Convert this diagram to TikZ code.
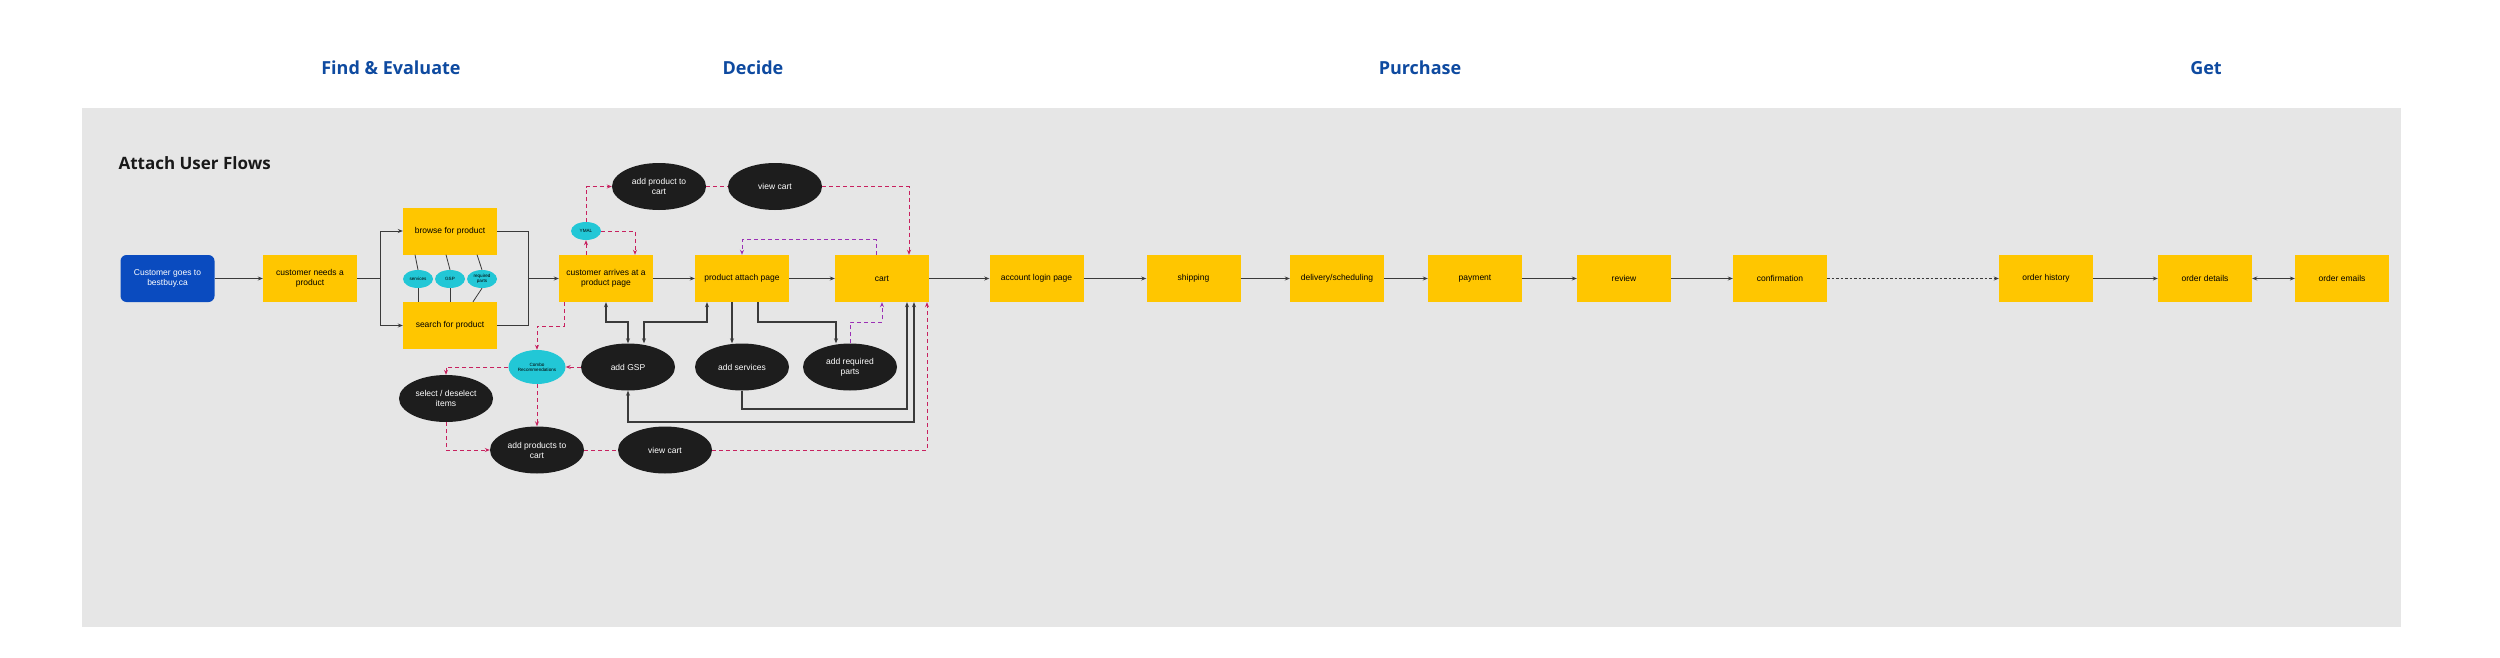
\documentclass[tikz,border=0pt]{standalone}
\usepackage{fontspec}
\setmainfont{Liberation Sans}
\newfontfamily\headfont{Open Sans}
\usetikzlibrary{arrows.meta,shapes.geometric}
\definecolor{bbyellow}{HTML}{FFC600}
\definecolor{bbblue}{HTML}{0A4BBF}
\definecolor{phaseblue}{HTML}{0E4AA0}
\definecolor{panelgray}{HTML}{E6E6E6}
\definecolor{tagcyan}{HTML}{22C7D6}
\definecolor{pinkline}{HTML}{C8215F}
\definecolor{purpleline}{HTML}{9B30B5}
\definecolor{inkgray}{HTML}{3A3A3A}
\definecolor{bubblefill}{HTML}{1D1D1D}

\begin{document}
\begin{tikzpicture}[x=1pt,y=-1pt,>={Stealth[length=5pt,width=4pt]},
		pagebox/.style={fill=bbyellow,minimum width=94pt,minimum height=47pt,inner sep=0pt,align=center,font=\fontsize{8.5}{10}\selectfont},
		startbox/.style={pagebox,fill=bbblue,rounded corners=6pt,text=white},
		actbubble/.style={ellipse,fill=bubblefill,minimum width=94pt,minimum height=47pt,inner sep=0pt,align=center,text=white,font=\fontsize{8.5}{10}\selectfont},
		tagbubble/.style={ellipse,fill=tagcyan,minimum width=30pt,minimum height=18pt,inner sep=0pt,align=center,font=\fontsize{4.6}{5}\selectfont},
		phasetitle/.style={text=phaseblue,font=\headfont\bfseries\fontsize{18}{20}\selectfont},
		flowline/.style={inkgray,line width=0.8pt},
		linkline/.style={inkgray,line width=1.6pt},
		pinkdash/.style={pinkline,line width=1pt,dash pattern=on 4pt off 3pt},
		purpledash/.style={purpleline,line width=1pt,dash pattern=on 4pt off 3pt}]
			\useasboundingbox (0,0) rectangle (2500,658);
			\fill[white] (0,0) rectangle (2500,658);
			% phases along the top
			\node[phasetitle] (find) at (391,68) {Find \& Evaluate};
			\node[phasetitle] (decide) at (753,68) {Decide};
			\node[phasetitle] (purchase) at (1420,68) {Purchase};
			\node[phasetitle] (get) at (2206,68) {Get};
			% the gray panel
			\fill[panelgray] (82,108) rectangle (2401,627);
			\node[anchor=west,font=\headfont\bfseries\fontsize{17}{20}\selectfont,text=black!90] (heading) at (115,163) {Attach User Flows};
			% main row of pages
			\node[startbox] (go) at (167.5,278.5) {Customer goes to\\bestbuy.ca};
			\node[pagebox] (needs) at (310,278.5) {customer needs a\\product};
			\node[pagebox] (browse) at (450,231) {browse for product};
			\node[pagebox] (search) at (450,325.5) {search for product};
			\node[pagebox] (arrives) at (606,278.5) {customer arrives at a\\product page};
			\node[pagebox] (attach) at (742,278.5) {product attach page};
			\node[pagebox] (cart) at (882,278.5) {cart};
			\node[pagebox] (login) at (1036.5,278.5) {account login page};
			\node[pagebox] (shipping) at (1193.5,278.5) {shipping};
			\node[pagebox] (delivery) at (1337,278.5) {delivery/scheduling};
			\node[pagebox] (payment) at (1475,278.5) {payment};
			\node[pagebox] (review) at (1624,278.5) {review};
			\node[pagebox] (confirm) at (1780,278.5) {confirmation};
			\node[pagebox] (history) at (2046,278.5) {order history};
			\node[pagebox] (details) at (2205,278.5) {order details};
			\node[pagebox] (emails) at (2342,278.5) {order emails};
			% small tags
			\node[tagbubble] (tservices) at (418,279) {services};
			\node[tagbubble] (tgsp) at (450,279) {GSP};
			\node[tagbubble] (tparts) at (482,279) {required\\parts};
			\node[tagbubble] (ymal) at (586,231) {YMAL};
			\node[tagbubble,minimum width=57pt,minimum height=34pt] (combo) at (537,367) {Combo\\Recommendations};
			% actions
			\node[actbubble] (addcart) at (659,186.5) {add product to\\cart};
			\node[actbubble] (viewcart) at (775,186.5) {view cart};
			\node[actbubble] (gsp) at (628,367) {add GSP};
			\node[actbubble] (services) at (742,367) {add services};
			\node[actbubble] (parts) at (850,367) {add required\\parts};
			\node[actbubble] (select) at (446,398.5) {select / deselect\\items};
			\node[actbubble] (addprods) at (537,450) {add products to\\cart};
			\node[actbubble] (viewcart2) at (665,450) {view cart};
			% find and evaluate
			\coordinate (split) at (380,278.5);
			\coordinate (merge) at (528,278.5);
			\draw[flowline,->] (go.east) -- (needs.west);
			\draw[flowline] (needs.east) -- (split);
			\draw[flowline,->] (split) |- (browse.west);
			\draw[flowline,->] (split) |- (search.west);
			\draw[flowline] (browse.east) -| (merge);
			\draw[flowline] (search.east) -| (merge);
			\draw[flowline,->] (merge) -- (arrives.west);
			\draw[flowline] ([xshift=-35pt]browse.south) -- (tservices.north);
			\draw[flowline] (tservices.south) -- (tservices.south |- search.north);
			\draw[flowline] ([xshift=-4pt]browse.south) -- (tgsp.north);
			\draw[flowline] (tgsp.south) -- (tgsp.south |- search.north);
			\draw[flowline] ([xshift=27pt]browse.south) -- (tparts.north);
			\draw[flowline] (tparts.south) -- ([xshift=23pt]search.north);
			% checkout flow
			\draw[flowline,->] (arrives.east) -- (attach.west);
			\draw[flowline,->] (attach.east) -- (cart.west);
			\draw[flowline,->] (cart.east) -- (login.west);
			\draw[flowline,->] (login.east) -- (shipping.west);
			\draw[flowline,->] (shipping.east) -- (delivery.west);
			\draw[flowline,->] (delivery.east) -- (payment.west);
			\draw[flowline,->] (payment.east) -- (review.west);
			\draw[flowline,->] (review.east) -- (confirm.west);
			\draw[flowline,->,dash pattern=on 2.5pt off 2pt] (confirm.east) -- (history.west);
			\draw[flowline,->] (history.east) -- (details.west);
			\draw[flowline,<->] (details.east) -- (emails.west);
			% YMAL loop above
			\draw[pinkdash,->] ([xshift=-20pt]arrives.north) -- (ymal.south);
			\draw[pinkdash,->] (ymal.north) |- (addcart.west);
			\draw[pinkdash,->] (ymal.east) -| ([xshift=29pt]arrives.north);
			\draw[pinkdash] (addcart.east) -- (viewcart.west);
			\draw[pinkdash,->] (viewcart.east) -| ([xshift=27pt]cart.north);
			\draw[purpledash,->] ([xshift=-6pt]cart.north) -- ++(0,-15) -| (attach.north);
			% attach options below
			\draw[linkline,<->] (arrives.south) -- ++(0,20) -| (gsp.north);
			\draw[linkline,<->] ([xshift=-35pt]attach.south) -- ++(0,20) -| ([xshift=16pt]gsp.north);
			\draw[linkline,->] ([xshift=-10pt]attach.south) -- ([xshift=-10pt]services.north);
			\draw[linkline,->] ([xshift=16pt]attach.south) -- ++(0,20) -| ([xshift=-14pt]parts.north);
			\draw[linkline,->] (services.south) -- ++(0,18) -| ([xshift=25pt]cart.south);
			\draw[linkline,<->] (gsp.south) -- ++(0,31) -| ([xshift=32pt]cart.south);
			\draw[purpledash,->] (parts.north) -- ++(0,-21) -| (cart.south);
			% combo recommendations
			\draw[pinkdash,->] ([xshift=-42pt]arrives.south) -- ++(0,24) -| (combo.north);
			\draw[pinkdash,->] (gsp.west) -- (combo.east);
			\draw[pinkdash,->] (combo.west) -| (select.north);
			\draw[pinkdash,->] (combo.south) -- (addprods.north);
			\draw[pinkdash,->] (select.south) |- (addprods.west);
			\draw[pinkdash] (addprods.east) -- (viewcart2.west);
			\draw[pinkdash,->] (viewcart2.east) -| ([xshift=45pt]cart.south);
		\end{tikzpicture}
\end{document}
